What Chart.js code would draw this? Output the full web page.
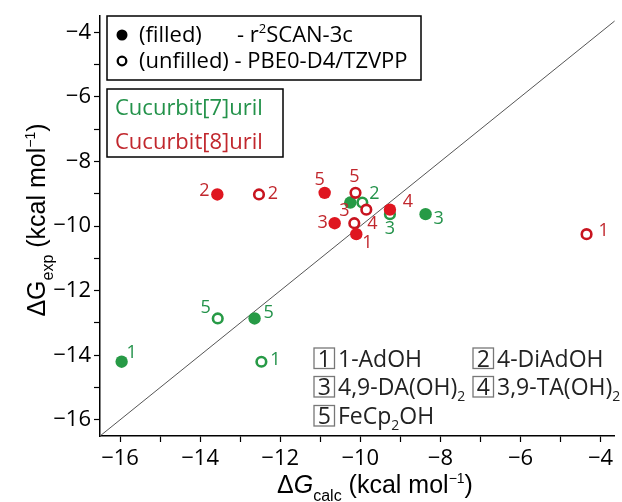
<!DOCTYPE html>
<html><head><meta charset="utf-8">
<script src="https://cdn.jsdelivr.net/npm/chart.js@4/dist/chart.umd.min.js"></script>
<style>html,body{margin:0;padding:0;background:#fff;}#wrap{width:622px;height:502px;position:relative;}</style>
</head><body><div id="wrap"><canvas id="c" width="622" height="502"></canvas></div>
<script>
// ---------------- data ----------------
const cb7Guests = ['1', '2', '3', '5'];
const cb7Exp = [-14.2, -9.27, -9.63, -12.86];
const cb7CalcR2scan = [-15.96, -10.25, -8.37, -12.64];
const cb7CalcPbe0 = [-12.47, -9.95, -9.26, -13.56];

const cb8Guests = ['1', '2', '3', '4', '5'];
const cb8Exp = [-10.25, -9.02, -9.91, -9.49, -8.97];
const cb8CalcR2scan = [-10.10, -13.57, -10.64, -9.26, -10.89];
const cb8CalcPbe0 = [-4.35, -12.53, -10.15, -9.85, -10.12];

const parityLine = [-16.5, -3.6];
const xMajorTicks = [-16, -14, -12, -10, -8, -6, -4];
const xMinorTicks = [-15, -13, -11, -9, -7, -5];
const yMajorTicks = [-16, -14, -12, -10, -8, -6, -4];
const yMinorTicks = [-15, -13, -11, -9, -7, -5];

const guestKeyNumbers = ['1', '2', '3', '4', '5'];
const guestKeyNames = ['1-AdOH', '4-DiAdOH', '4,9-DA(OH)|2', '3,9-TA(OH)|2', 'FeCp|2|OH'];

// ---------------- styles ----------------
const GREEN = '#279a46', GREEN_TXT = '#23924a';
const RED = '#df1620', RED_RING = '#c8141f', RED_TXT = '#c1272d';
const TICK_FONT = '"Open Sans", sans-serif';

// label offsets (pixels) relative to each point, keyed by guest number
const labelOffsets = {
  cb8f: {'1': [11, 9], '2': [-13, -4], '3': [-12, 0], '4': [18, -8], '5': [-5, -13]},
  cb8u: {'1': [17, -3], '2': [14, -1], '3': [-10, -12], '4': [6, 14], '5': [-1, -16]},
  cb7f: {'1': [10, -9], '3': [13, 5], '5': [14, -6]},
  cb7u: {'1': [14, -2], '2': [12, -9], '3': [0, 15], '5': [-12, -11]}
};

function pts(xs, ys) { return xs.map((x, i) => ({x: x, y: ys[i]})); }

const datasets = [
  {key: 'cb8f', guests: cb8Guests, label: 'CB8 r2SCAN-3c', data: pts(cb8CalcR2scan, cb8Exp),
   pointRadius: 6.2, pointBackgroundColor: RED, pointBorderColor: RED, pointBorderWidth: 0, txt: RED_TXT},
  {key: 'cb8u', guests: cb8Guests, label: 'CB8 PBE0-D4', data: pts(cb8CalcPbe0, cb8Exp),
   pointRadius: 4.8, pointBackgroundColor: '#fff', pointBorderColor: RED_RING, pointBorderWidth: 2.6, txt: RED_TXT},
  {key: 'cb7f', guests: cb7Guests, label: 'CB7 r2SCAN-3c', data: pts(cb7CalcR2scan, cb7Exp),
   pointRadius: 6.2, pointBackgroundColor: GREEN, pointBorderColor: GREEN, pointBorderWidth: 0, txt: GREEN_TXT},
  {key: 'cb7u', guests: cb7Guests, label: 'CB7 PBE0-D4', data: pts(cb7CalcPbe0, cb7Exp),
   pointRadius: 4.8, pointBackgroundColor: '#fff', pointBorderColor: GREEN, pointBorderWidth: 2.6, txt: GREEN_TXT},
  {key: 'diag', type: 'line', label: 'y=x', data: pts(parityLine, parityLine),
   borderColor: '#555', borderWidth: 1, pointRadius: 0, fill: false}
];

function drawRich(ctx, parts, x, y, align) {
  let total = 0;
  const ws = parts.map(p => { ctx.font = p.font; const w = ctx.measureText(p.t).width; total += w; return w; });
  let cx = align === 'center' ? x - total / 2 : x;
  parts.forEach((p, i) => { ctx.font = p.font; ctx.fillText(p.t, cx, y + (p.dy || 0)); cx += ws[i]; });
  return total;
}

const decorPlugin = {
  id: 'decor',
  afterDatasetsDraw(chart) {
    const ctx = chart.ctx;
    ctx.save();
    ctx.textAlign = 'center';
    ctx.textBaseline = 'middle';
    ctx.font = '18px ' + TICK_FONT;
    chart.data.datasets.forEach((ds, di) => {
      const offs = labelOffsets[ds.key];
      if (!offs) return;
      const meta = chart.getDatasetMeta(di);
      ctx.fillStyle = ds.txt;
      meta.data.forEach((el, i) => {
        const o = offs[ds.guests[i]];
        if (!o) return;
        ctx.fillText(ds.guests[i], el.x + o[0], el.y + o[1]);
      });
    });
    ctx.restore();
  },
  afterDraw(chart) {
    const ctx = chart.ctx;
    const F = (s, st) => (st || '') + ' ' + s + 'px ' + TICK_FONT;
    ctx.save();
    ctx.textBaseline = 'alphabetic';
    ctx.textAlign = 'left';
    // ---- method legend box ----
    ctx.fillStyle = '#fff';
    ctx.fillRect(107, 16, 314, 64);
    ctx.strokeStyle = '#000'; ctx.lineWidth = 1.5;
    ctx.strokeRect(107, 16, 314, 64);
    ctx.fillStyle = '#000';
    ctx.beginPath(); ctx.arc(122, 35, 5.5, 0, Math.PI * 2); ctx.fill();
    ctx.beginPath(); ctx.arc(122, 61, 4.3, 0, Math.PI * 2); ctx.lineWidth = 2.3; ctx.stroke();
    ctx.font = F(22); ctx.fillText('(filled)', 139, 42);
    drawRich(ctx, [{t: '- r', font: F(22)}, {t: '2', font: F(13), dy: -9}, {t: 'SCAN-3c', font: F(22)}], 237, 42, 'left');
    ctx.font = F(22); ctx.fillText('(unfilled) - PBE0-D4/TZVPP', 139, 68);
    // ---- host legend box ----
    ctx.fillStyle = '#fff';
    ctx.fillRect(107, 89, 176, 68);
    ctx.lineWidth = 1.5; ctx.strokeRect(107, 89, 176, 68);
    ctx.font = F(22);
    ctx.fillStyle = GREEN_TXT; ctx.fillText('Cucurbit[7]uril', 115, 115);
    ctx.fillStyle = RED_TXT; ctx.fillText('Cucurbit[8]uril', 115, 149);
    // ---- guest key ----
    const cols = [314, 473], rows = [366.5, 395, 424];
    guestKeyNumbers.forEach((n, i) => {
      const bx = cols[i % 2], by = rows[Math.floor(i / 2)];
      ctx.strokeStyle = '#777'; ctx.lineWidth = 1.3;
      ctx.strokeRect(bx, by - 18.5, 20.5, 20.5);
      ctx.fillStyle = '#222'; ctx.textAlign = 'center'; ctx.font = F(23);
      ctx.fillText(n, bx + 10.3, by);
      ctx.textAlign = 'left';
      const segs = guestKeyNames[i].split('|');
      const parts = segs.map((s, k) => k % 2 === 1 ? {t: s, font: F(14), dy: 6} : {t: s, font: F(23)});
      drawRich(ctx, parts, bx + 24, by, 'left');
    });
    // ---- axis titles ----
    ctx.fillStyle = '#000';
    const TF = (s, st) => (st || '') + ' ' + s + 'px "Liberation Sans", Arial, sans-serif';
    drawRich(ctx, [
      {t: '\u0394', font: TF(25)}, {t: 'G', font: TF(25, 'italic')},
      {t: 'calc', font: TF(16), dy: 8}, {t: ' (kcal mol', font: TF(25)},
      {t: '\u22121', font: TF(14), dy: -10}, {t: ')', font: TF(25)}
    ], 375, 493, 'center');
    ctx.translate(45, 220);
    ctx.rotate(-Math.PI / 2);
    drawRich(ctx, [
      {t: '\u0394G', font: TF(25)},
      {t: 'exp', font: TF(16), dy: 8}, {t: ' (kcal mol', font: TF(25)},
      {t: '\u22121', font: TF(14), dy: -10}, {t: ')', font: TF(25)}
    ], 0, 0, 'center');
    ctx.restore();
  }
};

function tickSetter(major, minor) {
  return function (scale) {
    scale.ticks = major.concat(minor).sort((a, b) => a - b).map(v => ({value: v}));
  };
}
function tickLabel(major) {
  return function (v) { return major.indexOf(v) >= 0 ? '\u2212' + Math.abs(v) : ''; };
}

new Chart(document.getElementById('c'), {
  type: 'scatter',
  data: {datasets: datasets},
  options: {
    responsive: false,
    animation: false,
    layout: {padding: {top: 14, right: 2, left: 0, bottom: 0}},
    plugins: {legend: {display: false}, tooltip: {enabled: false}},
    scales: {
      x: {
        type: 'linear', min: -16.5, max: -3.65,
        afterBuildTicks: tickSetter(xMajorTicks, xMinorTicks),
        afterFit(s) { s.height = 66; },
        border: {display: true, color: '#000', width: 1.5},
        grid: {drawOnChartArea: false, drawTicks: true, tickLength: 6, tickColor: '#000', tickWidth: 1.2},
        ticks: {autoSkip: false, maxRotation: 0, color: '#000', padding: 4,
                font: {family: TICK_FONT, size: 22}, callback: tickLabel(xMajorTicks)}
      },
      y: {
        type: 'linear', min: -16.5, max: -3.5,
        afterBuildTicks: tickSetter(yMajorTicks, yMinorTicks),
        afterFit(s) { s.width = 100; },
        border: {display: true, color: '#000', width: 1.5},
        grid: {drawOnChartArea: false, drawTicks: true, tickLength: 6, tickColor: '#000', tickWidth: 1.2},
        ticks: {autoSkip: false, color: '#000', padding: 3,
                font: {family: TICK_FONT, size: 22}, callback: tickLabel(yMajorTicks)}
      }
    }
  },
  plugins: [decorPlugin]
});
</script></body></html>
